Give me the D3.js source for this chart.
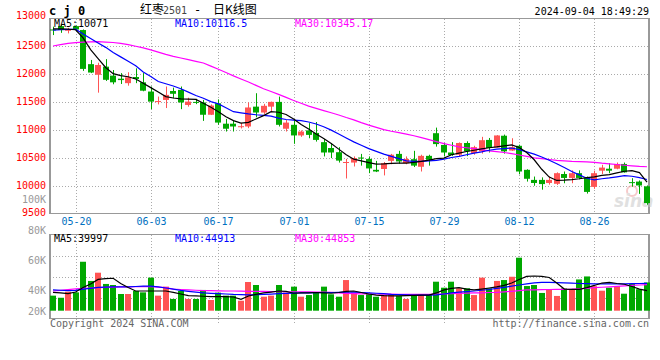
<!DOCTYPE html>
<html lang="zh">
<head>
<meta charset="UTF-8">
<title>红枣2501 日K线图</title>
<script src="https://d3js.org/d3.v7.min.js"></script>
<style>
  body { margin: 0; background: #fff; }
  svg text { font-family: "DejaVu Sans Mono", "Liberation Mono", monospace; }
</style>
</head>
<body>
<div id="chart"></div>
<script>
// trading days shown (05-15 .. 09-04)
const dates = [
  "05-15","05-16","05-17","05-20","05-21","05-22","05-23","05-24","05-27","05-28",
  "05-29","05-30","05-31","06-03","06-04","06-05","06-06","06-07","06-11","06-12",
  "06-13","06-14","06-17","06-18","06-19","06-20","06-21","06-24","06-25","06-26",
  "06-27","06-28","07-01","07-02","07-03","07-04","07-05","07-08","07-09","07-10",
  "07-11","07-12","07-15","07-16","07-17","07-18","07-19","07-22","07-23","07-24",
  "07-25","07-26","07-29","07-30","07-31","08-01","08-02","08-05","08-06","08-07",
  "08-08","08-09","08-12","08-13","08-14","08-15","08-16","08-19","08-20","08-21",
  "08-22","08-23","08-26","08-27","08-28","08-29","08-30","09-02","09-03","09-04"
];

const open = [
  12800,12860,12780,12860,12790,12180,11990,12135,11975,11920,
  11840,11950,11855,11690,11505,11540,11700,11720,11450,11505,
  11495,11275,11480,11115,11115,11060,11065,11420,11315,11420,
  11505,11025,11095,10905,10995,10950,10785,10680,10605,10420,
  10420,10510,10485,10290,10305,10450,10575,10410,10480,10345,
  10540,10945,10735,10600,10560,10770,10590,10620,10825,10690,
  10900,10635,10720,10290,10110,10110,10055,10040,10215,10145,
  10230,10145,9985,10275,10310,10310,10395,10070,10080,9995
];
const high = [
  12850,12880,12830,12870,12800,12255,12205,12270,12075,12020,
  12035,12105,12020,11780,11600,11780,11760,11780,11580,11560,
  11540,11460,11550,11200,11170,11130,11495,11660,11470,11510,
  11600,11180,11195,10995,11125,11145,10840,10770,10695,10485,
  10530,10575,10530,10450,10430,10575,10630,10530,10630,10560,
  10560,11045,10770,10785,10780,10800,10720,10880,10860,10910,
  10920,10855,10740,10300,10170,10155,10170,10245,10260,10280,
  10280,10170,10275,10380,10410,10420,10420,10140,10100,10010
];
const low = [
  12700,12740,12730,12780,12060,12020,11670,11880,11820,11825,
  11795,11840,11695,11375,11460,11395,11570,11375,11420,11465,
  11165,11270,11095,10975,10975,11030,11035,11230,11290,11320,
  11065,10975,10755,10880,10855,10795,10530,10500,10420,10135,
  10350,10365,10230,10250,10190,10390,10400,10390,10340,10260,
  10365,10705,10530,10540,10535,10535,10560,10580,10600,10690,
  10580,10630,10210,10080,10005,9935,10025,10020,10050,10050,
  10120,9865,9950,10215,10230,10300,10240,9990,9860,9665
];
const close = [
  12785,12790,12795,12800,12095,12030,12165,11900,11855,11895,
  11945,11915,11705,11510,11520,11630,11650,11495,11510,11495,
  11275,11440,11135,11025,11065,11070,11405,11315,11435,11505,
  11095,11135,10905,10975,10915,10825,10600,10600,10455,10430,
  10500,10500,10315,10260,10410,10560,10440,10485,10365,10540,
  10470,10750,10600,10555,10770,10620,10695,10820,10680,10905,
  10620,10695,10260,10130,10055,10035,10110,10230,10145,10230,
  10145,9895,10230,10330,10275,10395,10245,10060,10010,9695
];

// price moving averages
const ma5 = [
  12810,12810,12805,12795,12650,12440,12280,12120,12010,11975,
  11955,11915,11840,11760,11680,11600,11575,11560,11555,11550,
  11480,11410,11330,11240,11170,11125,11140,11200,11260,11330,
  11320,11280,11200,11100,11020,10930,10850,10760,10660,10560,
  10480,10450,10420,10393,10395,10405,10411,10411,10425,10440,
  10465,10490,10500,10560,10590,10618,10640,10665,10685,10700,
  10720,10735,10690,10600,10470,10300,10160,10100,10105,10115,
  10130,10150,10165,10190,10205,10235,10265,10275,10240,10071
];
const ma10 = [
  12790,12795,12800,12805,12720,12640,12560,12480,12390,12310,
  12230,12150,12040,11960,11870,11830,11790,11740,11680,11620,
  11570,11510,11470,11400,11330,11310,11290,11275,11265,11250,
  11215,11190,11180,11170,11145,11110,11060,11000,10930,10860,
  10790,10730,10670,10620,10570,10530,10490,10450,10440,10440,
  10450,10460,10480,10510,10530,10560,10590,10610,10640,10660,
  10670,10680,10650,10610,10570,10520,10460,10400,10330,10260,
  10200,10140,10110,10130,10145,10165,10185,10175,10150,10116.5
];
const ma30 = [
  12505,12530,12553,12565,12575,12580,12582,12575,12567,12550,
  12530,12500,12470,12435,12395,12355,12320,12290,12260,12230,
  12200,12145,12090,12030,11970,11915,11860,11800,11740,11690,
  11640,11585,11530,11480,11430,11390,11350,11310,11270,11225,
  11184,11135,11090,11050,11010,10980,10955,10930,10900,10865,
  10830,10795,10760,10730,10700,10685,10670,10650,10630,10615,
  10600,10580,10555,10530,10505,10490,10475,10460,10450,10442,
  10438,10432,10425,10410,10398,10385,10372,10360,10350,10345.17
];

// volume (lots) and volume moving averages
const volume = [
  36700,35300,39300,38900,59300,46500,52000,44500,43800,37800,
  37800,39800,38900,48700,36700,42700,34500,39800,34500,34500,
  40500,33800,38700,36700,36700,33300,45800,43800,36000,36700,
  43800,38700,42700,36000,37100,38700,42700,37600,36000,47100,
  38700,37100,37800,36000,37100,37600,36400,34500,37100,37600,
  37600,46000,42000,46000,41600,41600,37100,48700,41600,46500,
  47100,49300,62000,43100,43800,38500,41000,36500,41500,41000,
  47500,49500,43000,40000,42000,43000,38000,44500,41000,45500
];
const vma5 = [
  38900,38600,38100,39100,42100,44500,47500,48100,48300,44800,
  42100,39800,39800,39800,39800,39800,38900,37800,36700,36500,
  36300,36000,36000,36000,35800,34300,36500,37600,38500,39100,
  39800,39500,38300,38500,38500,38800,38500,38300,38800,39500,
  39800,38800,37800,37100,36700,36500,36500,36700,36900,37100,
  37100,38500,40500,41600,42000,41100,40500,41100,41800,42500,
  43600,45100,47500,49500,49800,49600,48800,45100,41100,40900,
  40900,42100,43500,45100,45500,44800,44300,42800,41100,39997
];
const vma10 = [
  40500,40300,40000,40200,41000,41600,42200,42400,42600,42600,
  42600,42800,43100,43100,42500,41800,41000,40200,39600,39000,
  38500,38200,38000,37800,37500,37400,37200,37300,37500,37700,
  38000,38200,38400,38500,38600,38700,38800,38800,38900,39000,
  39000,38800,38600,38300,38000,37600,37400,37200,37000,37000,
  37000,37200,37800,38500,39000,39400,39800,40300,40800,41500,
  42200,43000,43800,44600,45200,45500,45600,45400,45200,45000,
  44800,44700,44600,44500,44500,44500,44600,44700,44800,44913
];
const vma30 = [
  39800,40200,40700,41200,41600,41800,42000,42200,42400,42500,
  42600,42700,42700,42700,42400,42000,41100,40800,40500,40300,
  40100,40000,39900,39800,39800,39700,39600,39500,39500,39400,
  39400,39300,39300,39300,39200,39100,39000,38900,38500,38200,
  38000,37900,37800,37800,37700,37700,37600,37600,37600,37600,
  37600,37700,37800,38000,38200,38400,38500,38600,38800,38900,
  39200,39600,40000,40500,40600,40700,40800,40900,40900,41000,
  41300,41600,42000,42300,42600,42900,43200,43500,43800,44000
];

// axis ticks and labels
const priceTicks = [13000, 12500, 12000, 11500, 11000, 10500, 10000, 9500];
const volTicks = [80000, 60000, 40000, 20000];
const volTickLabels = ["80K", "60K", "40K", "20K"];
const tickDates = ["05-20", "06-03", "06-17", "07-01", "07-15", "07-29", "08-12", "08-26"];

const RED = "#ff5454", GREEN = "#00a800", GRID = "#aaa", FRAME = "#999";

const svg = d3.select("#chart").append("svg")
    .attr("width", 660)
    .attr("height", 360)
    .style("background", "#fff");

// scales
const x = d3.scaleBand()
    .domain(d3.range(dates.length))
    .range([50, 650])
    .paddingInner(0.2)
    .paddingOuter(0);
const cx = i => x(i) + x.bandwidth() / 2;

const y = d3.scaleLinear().domain([9500, 13000]).range([214, 18.3]);
const yv = d3.scaleLinear().domain([20000, 80000]).range([320.7, 230.7]);
const volBase = 310.7;

// ---- frames and grid ----
const grid = svg.append("g");
// horizontal price grid
grid.selectAll(".hp")
    .data(priceTicks.filter(v => v < 13000 && v > 9500))
    .join("line")
    .attr("x1", 50).attr("x2", 650)
    .attr("y1", d => Math.round(y(d)) + 0.5)
    .attr("y2", d => Math.round(y(d)) + 0.5)
    .attr("stroke", GRID)
    .attr("stroke-dasharray", "1,2");

// volume horizontal grid: panel split in quarters
grid.selectAll(".hv")
    .data([1, 2, 3])
    .join("line")
    .attr("x1", 50).attr("x2", 650)
    .attr("y1", d => Math.round(234.5 + d * 21) + 0.5)
    .attr("y2", d => Math.round(234.5 + d * 21) + 0.5)
    .attr("stroke", GRID)
    .attr("stroke-dasharray", "1,2");

// vertical grid at date labels
const tickIdx = tickDates.map(d => dates.indexOf(d));
tickIdx.forEach(i => {
    const gx = Math.round(cx(i)) + 0.5;
    grid.append("line")
        .attr("x1", gx).attr("x2", gx).attr("y1", 19).attr("y2", 213)
        .attr("stroke", GRID).attr("stroke-dasharray", "1,2");
    grid.append("line")
        .attr("x1", gx).attr("x2", gx).attr("y1", 235).attr("y2", 323)
        .attr("stroke", GRID).attr("stroke-dasharray", "1,2");
});

// frames
svg.append("rect")
    .attr("x", 50.5).attr("y", 18.5).attr("width", 599).attr("height", 195)
    .attr("fill", "none").attr("stroke", FRAME);
svg.append("rect")
    .attr("x", 50.5).attr("y", 234.5).attr("width", 599).attr("height", 84)
    .attr("fill", "none").attr("stroke", FRAME);
[50, 649].forEach(lx => {
    svg.append("line").attr("x1", lx).attr("x2", lx).attr("y1", 18).attr("y2", 214)
        .attr("stroke", FRAME).attr("stroke-width", 2);
    svg.append("line").attr("x1", lx).attr("x2", lx).attr("y1", 234).attr("y2", 319)
        .attr("stroke", FRAME).attr("stroke-width", 2);
});

// sina watermark
const wm = svg.append("g").attr("opacity", 0.55);
wm.append("circle").attr("cx", 632).attr("cy", 191).attr("r", 5)
    .attr("fill", "none").attr("stroke", "#f0a0a0").attr("stroke-width", 2);
wm.append("text").attr("x", 614).attr("y", 207)
    .attr("font-size", 17).attr("font-style", "italic").attr("font-weight", "bold")
    .style("font-family", "'DejaVu Sans', sans-serif")
    .attr("fill", "#c8c8c8").text("sina");

// ---- candles ----
const idx = d3.range(dates.length);
const isUp = i => close[i] >= open[i];
const candles = svg.append("g");
candles.selectAll("line")
    .data(idx)
    .join("line")
    .attr("x1", i => Math.round(cx(i)) + 0.5)
    .attr("x2", i => Math.round(cx(i)) + 0.5)
    .attr("y1", i => y(high[i]))
    .attr("y2", i => y(low[i]))
    .attr("stroke", i => isUp(i) ? RED : GREEN);
candles.selectAll("rect")
    .data(idx)
    .join("rect")
    .attr("x", i => Math.round(x(i)))
    .attr("width", Math.round(x.bandwidth()))
    .attr("y", i => y(Math.max(open[i], close[i])))
    .attr("height", i => Math.max(1, Math.abs(y(open[i]) - y(close[i]))))
    .attr("fill", i => isUp(i) ? RED : GREEN);

// moving averages
const lineP = arr => d3.line().x((d, i) => cx(i)).y(d => y(d))(arr);
const lineV = arr => d3.line().x((d, i) => cx(i)).y(d => yv(d))(arr);
[[ma30, "#ff00ff"], [ma10, "#0000ff"], [ma5, "#000"]].forEach(([arr, c]) => {
    svg.append("path").attr("d", lineP(arr)).attr("fill", "none")
        .attr("stroke", c).attr("stroke-width", 1.2);
});

// ---- volume ----
svg.append("g").selectAll("rect")
    .data(idx)
    .join("rect")
    .attr("x", i => Math.round(x(i)))
    .attr("width", Math.round(x.bandwidth()))
    .attr("y", i => yv(volume[i]))
    .attr("height", i => volBase - yv(volume[i]))
    .attr("fill", i => isUp(i) ? RED : GREEN);
[[vma30, "#ff00ff"], [vma10, "#0000ff"], [vma5, "#000"]].forEach(([arr, c]) => {
    svg.append("path").attr("d", lineV(arr)).attr("fill", "none")
        .attr("stroke", c).attr("stroke-width", 1.2);
});

// ---- texts ----
const T = (tx, ty, str, opts = {}) => svg.append("text")
    .attr("x", tx).attr("y", ty)
    .attr("font-size", opts.size || 10)
    .attr("fill", opts.fill || "#000")
    .attr("text-anchor", opts.anchor || "start")
    .attr("font-weight", opts.weight || "normal")
    .attr("dy", opts.dy || null)
    .text(str);

T(49, 15, "c j 0", { size: 12, weight: "bold" });

const title = svg.append("text").attr("y", 13.5).attr("font-size", 12);
title.append("tspan").attr("x", 140).style("font-family", "'Noto Sans CJK SC', sans-serif").text("红枣");
title.append("tspan").attr("x", 163).attr("font-size", 10).attr("fill", "#444").text("2501");
title.append("tspan").attr("x", 194).text("-");
title.append("tspan").attr("x", 213).style("font-family", "'Noto Sans CJK SC', sans-serif").text("日K线图");

T(649, 15, "2024-09-04 18:49:29", { anchor: "end" });

// price axis labels
priceTicks.forEach(v => {
    const ty = v === 13000 ? 15 : v === 9500 ? 212 : y(v) - 1;
    T(46, ty, String(v), { anchor: "end", fill: "#f00", dy: "0.35em" });
});
T(46, 199.5, "100K", { anchor: "end", fill: "#999", dy: "0.35em" });

// date labels
tickIdx.forEach((i, k) => {
    T(Math.round(cx(i)) + 0.5, 221, tickDates[k], { anchor: "middle", fill: "#0070c0", dy: "0.35em" });
});

// volume axis labels
volTicks.forEach((v, k) => {
    T(46, Math.min(yv(v), 311), volTickLabels[k], { anchor: "end", fill: "#999", dy: "0.35em" });
});

// legends
const fmt = v => String(v);
T(54, 26.5, "MA5:" + fmt(ma5[ma5.length - 1]));
T(175, 26.5, "MA10:" + fmt(ma10[ma10.length - 1]), { fill: "#0000ff" });
T(295, 26.5, "MA30:" + fmt(ma30[ma30.length - 1]), { fill: "#ff00ff" });
T(54, 242, "MA5:" + fmt(vma5[vma5.length - 1]));
T(175, 242, "MA10:" + fmt(vma10[vma10.length - 1]), { fill: "#0000ff" });
T(295, 242, "MA30:44853", { fill: "#ff00ff" });

T(50, 327, "Copyright 2024 SINA.COM", { fill: "#666" });
T(649, 327, "http://finance.sina.com.cn", { anchor: "end", fill: "#666" });
</script>
</body>
</html>
